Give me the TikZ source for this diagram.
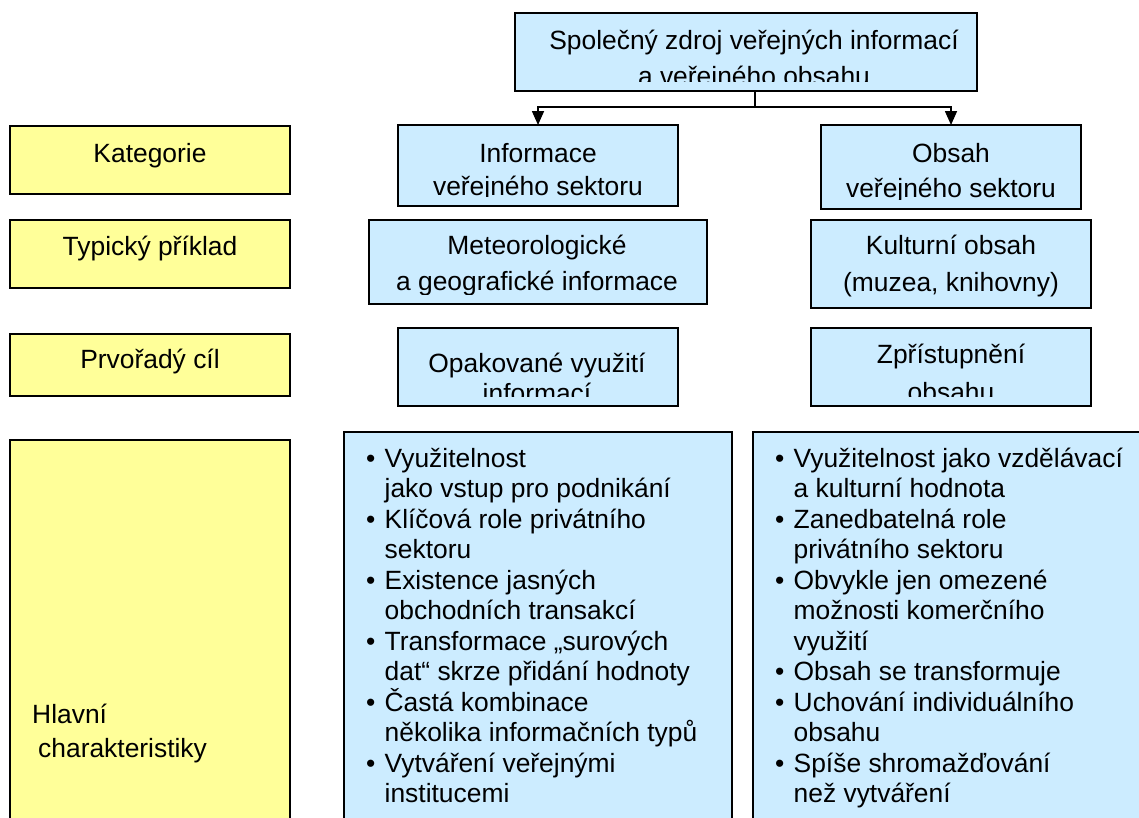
\documentclass[tikz,border=0pt]{standalone}
\usepackage{fontspec}
\setmainfont{Liberation Sans}
\usetikzlibrary{arrows.meta}
\definecolor{boxblue}{HTML}{CCECFF}
\definecolor{boxyellow}{HTML}{FFFF99}
\tikzset{
  panel/.style={draw=black, line width=1.8pt, inner sep=0pt, outer sep=0pt},
  bluebox/.style={panel, fill=boxblue},
  yellowbox/.style={panel, fill=boxyellow},
  boxtxt/.style={align=center, inner sep=0pt, anchor=base, font=\fontsize{26.4}{36.5}\selectfont},
  labtxt/.style={inner sep=0pt, anchor=base, font=\fontsize{26.4}{34}\selectfont},
  listtxt/.style={align=left, inner sep=0pt, anchor=base west, font=\fontsize{26.4}{30.5}\selectfont},
  conn/.style={line width=1.6pt},
  arr/.style={conn, -{Triangle[width=12pt,length=14pt]}}
}
% #1 name, #2 box, #3 x, #4 baseline of the last line, #5 text
\newcommand\clippedtext[5]{%
  \begin{scope}
    \clip ([yshift=10pt]#2.south west) rectangle (#2.north east);
    \node[boxtxt] (#1) at (#3,#4) {#5};
  \end{scope}}
\newcommand\bul{\makebox[18.5pt][l]{•}}
\newcommand\ind{\hspace*{18.5pt}}
\begin{document}
\begin{tikzpicture}[x=1pt,y=-1pt]
\useasboundingbox (0,0) rectangle (1139,817);
\fill[white] (0,0) rectangle (1139,817);
\clip (0,0) rectangle (1139,817);

% blue boxes
\node[bluebox, minimum width=462pt, minimum height=78pt] (top) at (746,52) {};
\node[bluebox, minimum width=280pt, minimum height=81pt] (info) at (538,165.5) {};
\node[bluebox, minimum width=260pt, minimum height=84pt] (obsah) at (951,167) {};
\node[bluebox, minimum width=338pt, minimum height=84pt] (meteo) at (538,262) {};
\node[bluebox, minimum width=280pt, minimum height=88pt] (kult) at (951,264) {};
\node[bluebox, minimum width=280pt, minimum height=78pt] (opak) at (538,367) {};
\node[bluebox, minimum width=280pt, minimum height=78pt] (zpr) at (951,367) {};
\node[bluebox, minimum width=388pt, minimum height=398pt] (listL) at (538,631) {};
\node[bluebox, minimum width=397pt, minimum height=398pt] (listR) at (951.5,631) {};

% yellow boxes
\node[yellowbox, minimum width=280pt, minimum height=68pt] (kat) at (150,160) {};
\node[yellowbox, minimum width=280pt, minimum height=68pt] (typ) at (150,254) {};
\node[yellowbox, minimum width=280pt, minimum height=62pt] (prv) at (150,365) {};
\node[yellowbox, minimum width=280pt, minimum height=390pt] (hlav) at (150,635) {};

% texts of blue boxes
\clippedtext{topT}{top}{754}{85.5}{Společný zdroj veřejných informací\\a veřejného obsahu}
\clippedtext{infoT}{info}{538}{195.5}{Informace\\[-3pt]veřejného sektoru}
\clippedtext{obsahT}{obsah}{951}{197}{Obsah\\[-1.5pt]veřejného sektoru}
\clippedtext{meteoT}{meteo}{537}{290.5}{Meteorologické\\a geografické informace}
\clippedtext{kultT}{kult}{951}{291}{Kulturní obsah\\(muzea, knihovny)}
\clippedtext{opakT}{opak}{537}{402}{Opakované využití\\[-7pt]informací}
\clippedtext{zprT}{zpr}{951}{401}{Zpřístupnění\\[1.5pt]obsahu}

% texts of yellow boxes
\node[labtxt] (katT) at (150,162) {Kategorie};
\node[labtxt] (typT) at (150,255) {Typický příklad};
\node[labtxt] (prvT) at (150,368) {Prvořadý cíl};
\node[labtxt, align=left, anchor=base west] (hlavT) at (32,757) {Hlavní\\\hspace*{6pt}charakteristiky};

% lists
\node[listtxt] (listLT) at (366,802.5) {%
\bul Využitelnost\\
\ind jako vstup pro podnikání\\
\bul Klíčová role privátního\\
\ind sektoru\\
\bul Existence jasných\\
\ind obchodních transakcí\\
\bul Transformace „surových\\
\ind dat“ skrze přidání hodnoty\\
\bul Častá kombinace\\
\ind několika informačních typů\\
\bul Vytváření veřejnými\\
\ind institucemi};
\node[listtxt] (listRT) at (775,802.5) {%
\bul Využitelnost jako vzdělávací\\
\ind a kulturní hodnota\\
\bul Zanedbatelná role\\
\ind privátního sektoru\\
\bul Obvykle jen omezené\\
\ind možnosti komerčního\\
\ind využití\\
\bul Obsah se transformuje\\
\bul Uchování individuálního\\
\ind obsahu\\
\bul Spíše shromažďování\\
\ind než vytváření};

% connectors
\coordinate (j) at (755,107);
\draw[conn] (top.south -| j) -- (j);
\draw[arr] (j) -| (info.north);
\draw[arr] (j) -| (obsah.north);
\end{tikzpicture}
\end{document}
